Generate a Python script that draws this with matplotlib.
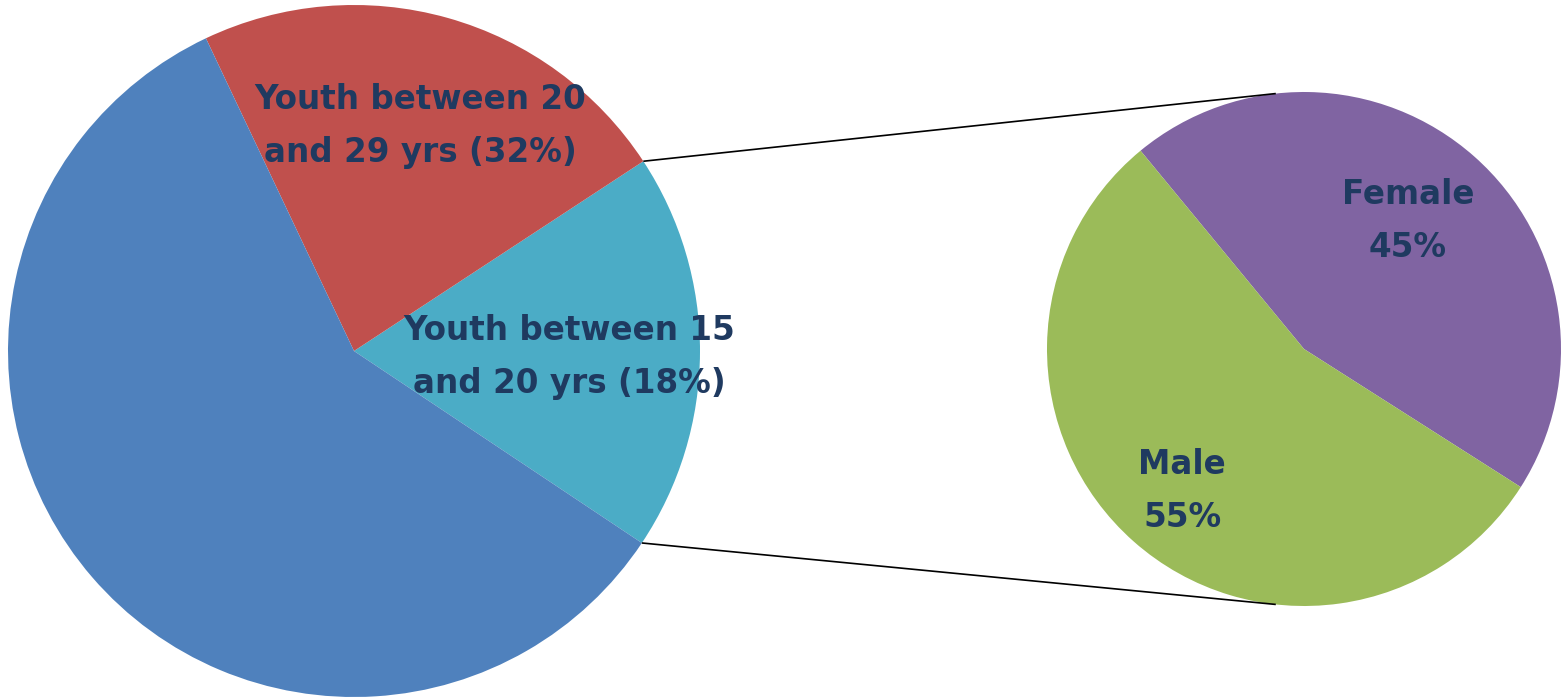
import numpy as np
import matplotlib.pyplot as plt

# Main pie: age groups (share of the circle, counter-clockwise from the cyan wedge)
age_labels = ["Youth between 15\nand 20 yrs (18%)", "Youth between 20\nand 29 yrs (32%)", ""]
age_share = [18.6, 22.8, 58.6]
age_colors = ["#4BACC6", "#C0504D", "#4F81BD"]

# Secondary pie: gender split
sex_labels = ["Female\n45%", "Male\n55%"]
sex_share = [45, 55]
sex_colors = ["#8064A2", "#9BBB59"]

W, H = 1562, 697
text_color = "#1F3A60"

fig = plt.figure(figsize=(W / 100, H / 100), dpi=100)
ax = fig.add_axes([0, 0, 1, 1])

# big pie on the left
big_c = (354, H - 351)
big_r = 346
big_start = -33.7
ax.pie(age_share, colors=age_colors, startangle=big_start, counterclock=True,
       center=big_c, radius=big_r, frame=True,
       wedgeprops=dict(linewidth=0, antialiased=True))

# small pie on the right
small_c = (1304, H - 349)
small_r = 257
ax.pie(sex_share, colors=sex_colors, startangle=-32.5, counterclock=True,
       center=small_c, radius=small_r, frame=True,
       wedgeprops=dict(linewidth=0, antialiased=True))

# connector lines from the edges of the 15-20 wedge to the small pie
cyan_span = age_share[0] / sum(age_share) * 360
for a_big, a_small in [(big_start + cyan_span, 96.3), (big_start, -96.3)]:
    x0 = big_c[0] + big_r * np.cos(np.radians(a_big))
    y0 = big_c[1] + big_r * np.sin(np.radians(a_big))
    x1 = small_c[0] + small_r * np.cos(np.radians(a_small))
    y1 = small_c[1] + small_r * np.sin(np.radians(a_small))
    ax.plot([x0, x1], [y0, y1], color="black", lw=1.2, solid_capstyle="butt")

font = dict(family="DejaVu Sans", fontweight="bold", color=text_color,
            fontsize=23.5, ha="center", va="center", linespacing=1.8)
ax.text(569, H - 357, age_labels[0], **font)
ax.text(420, H - 126, age_labels[1], **font)
ax.text(1408, H - 221, sex_labels[0], **font)
ax.text(1182, H - 491, sex_labels[1], **font)

ax.set_xlim(0, W)
ax.set_ylim(0, H)
ax.set_aspect("equal")
ax.axis("off")

fig.savefig("out.png", dpi=100, facecolor="white")
plt.close(fig)
